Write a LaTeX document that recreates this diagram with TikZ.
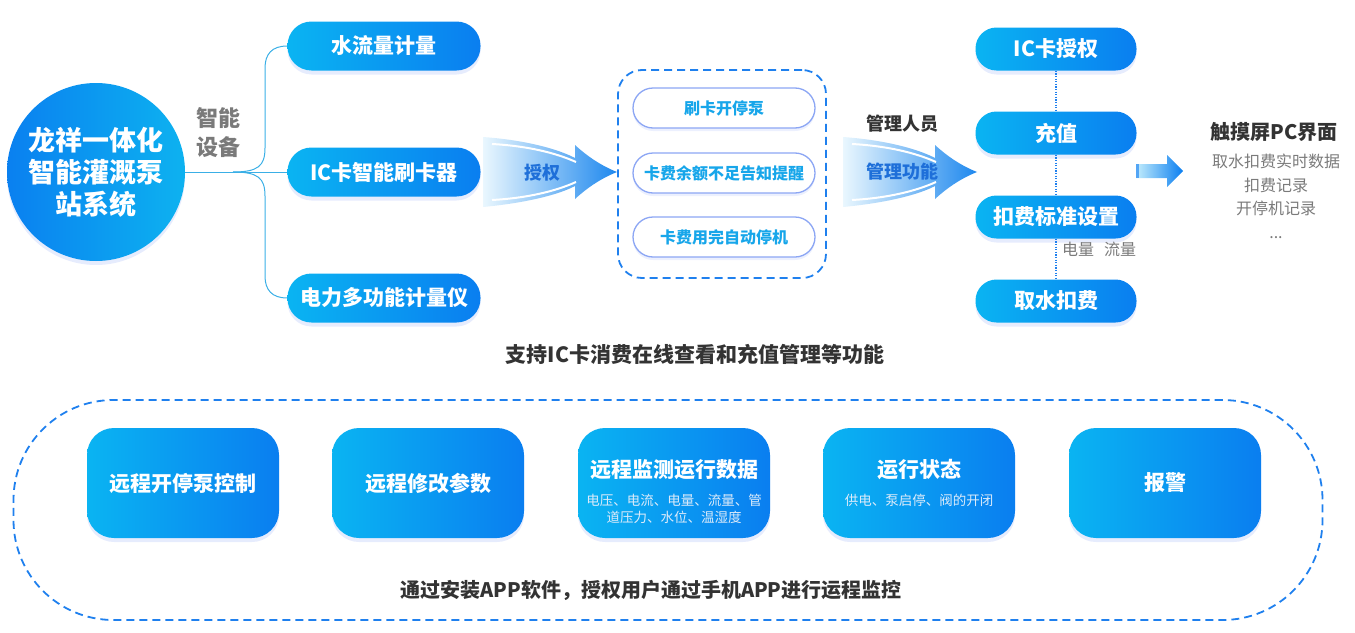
\documentclass[tikz,border=0pt]{standalone}
\usepackage{fontspec}
\setmainfont{Noto Sans CJK SC}
\usepackage{tikz}
\usetikzlibrary{positioning, shadows, calc}

\definecolor{cyanC}{HTML}{0AB4F2}
\definecolor{blueC}{HTML}{0A7EF0}
\definecolor{hubL}{HTML}{0A80F0}
\definecolor{hubR}{HTML}{0DB2F0}
\definecolor{lineC}{HTML}{3AAFE6}
\definecolor{dashC}{HTML}{1F80EE}
\definecolor{grayT}{HTML}{7A7A7A}
\definecolor{darkT}{HTML}{333333}
\definecolor{pillT}{HTML}{17A6EA}
\definecolor{pillE}{HTML}{8CA6F4}
\definecolor{glowC}{HTML}{C8D4FB}
\definecolor{swL}{HTML}{EAF7FE}
\definecolor{swR}{HTML}{1E88EE}
\definecolor{arrT}{HTML}{1E6FD9}
\definecolor{subT}{HTML}{DCEBFA}

\newcommand{\fsize}[2]{\fontsize{#1}{#2}\selectfont}

\tikzset{
  glow/.style={drop shadow={shadow xshift=0pt, shadow yshift=-4pt, opacity=.45, fill=glowC}},
  hub/.style={circle, minimum size=178pt, inner sep=0pt, left color=hubL, right color=hubR, text=white, align=center, font=\fsize{27}{32}\bfseries, glow},
  card/.style={rectangle, rounded corners=24pt, minimum width=193pt, minimum height=49pt, inner sep=0pt, left color=cyanC, right color=blueC, text=white, font=\fsize{21}{21}\bfseries, glow},
  rpill/.style={card, rounded corners=21pt, minimum width=161pt, minimum height=43pt},
  subpill/.style={rectangle, rounded corners=20pt, minimum width=182pt, minimum height=40pt, inner sep=0pt, fill=white, draw=pillE, line width=1.3pt, text=pillT, font=\fsize{16}{16}\bfseries, drop shadow={shadow xshift=0pt, shadow yshift=-3pt, opacity=.35, fill=glowC}},
  tile/.style={rectangle, rounded corners=27pt, minimum width=192pt, minimum height=110pt, inner sep=0pt, left color=cyanC, right color=blueC, text=white, font=\fsize{21}{21}\bfseries, glow},
  tilesub/.style={align=center, text=subT, font=\fsize{13.5}{16.5}, inner sep=0pt},
  dashbox/.style={rectangle, draw=dashC, line width=1.8pt, dash pattern=on 8pt off 5pt, inner sep=0pt},
  branch/.style={draw=lineC, line width=1pt},
  dotline/.style={draw=dashC, line width=2pt, dash pattern=on 1.2pt off 1.4pt},
  graytext/.style={text=grayT, inner sep=0pt, font=\fsize{16}{16}},
  darktext/.style={text=darkT, inner sep=0pt, font=\fsize{21}{21}\bfseries}
}

% 渐变箭头（授权）
\newcommand{\swoosh}{
  \shade[left color=swL, right color=swR] (483,137) .. controls (525,140) and (558,149) .. (575,158) -- (575,145)
    .. controls (588,157) and (602,166) .. (617,172) .. controls (602,178) and (588,187) .. (575,199) -- (575,186)
    .. controls (558,195) and (525,203) .. (483,207) -- cycle;
  \draw[white, line width=2pt] (492,144) .. controls (528,146) and (556,153) .. (576,162);
  \draw[white, line width=2pt] (492,200) .. controls (528,198) and (556,191) .. (576,182);
}

\begin{document}
\begin{tikzpicture}[x=1pt, y=-1pt]
  \useasboundingbox (0,0) rectangle (1355,632);

  % 1. 左侧主节点与智能设备
  \node[hub] (hub) at (96,172) {龙祥一体化\\智能灌溉泵\\站系统};
  \node[text=grayT, align=center, inner sep=0pt, font=\fsize{22}{29}\bfseries] (smart) at (218,133) {智能\\设备};

  \node[card] (water) at (384,46) {水流量计量};
  \node[card] (reader) at (384,172) {IC卡智能刷卡器};
  \node[card] (power) at (384,298) {电力多功能计量仪};

  \coordinate (fork) at (233,172);
  \draw[branch] (hub.east) -- (reader.west);
  \draw[branch] (fork) .. controls (258,172) and (265,166) .. (265,148) -- (265,68)
    .. controls (265,54) and (272,46) .. (water.west);
  \draw[branch] (fork) .. controls (258,172) and (265,178) .. (265,196) -- (265,276)
    .. controls (265,290) and (272,298) .. (power.west);

  % 2. 授权箭头与刷卡功能
  \swoosh
  \node[text=arrT, inner sep=0pt, font=\fsize{18}{18}\bfseries] (auth) at (542,173) {授权};

  \node[dashbox, rounded corners=24pt, minimum width=208pt, minimum height=208pt] (cardbox) at (722,174) {};
  \node[subpill] (p1) at (724,108) {刷卡开停泵};
  \node[subpill] (p2) at (724,173) {卡费余额不足告知提醒};
  \node[subpill] (p3) at (724,237) {卡费用完自动停机};

  % 3. 管理功能
  \begin{scope}[xshift=360pt]
    \swoosh
  \end{scope}
  \node[text=darkT, inner sep=0pt, font=\fsize{18}{18}\bfseries] (staff) at (902,124) {管理人员};
  \node[text=arrT, inner sep=0pt, font=\fsize{18}{18}\bfseries] (manage) at (902,172) {管理功能};

  \node[rpill] (r1) at (1056,49) {IC卡授权};
  \node[rpill] (r2) at (1056,133) {充值};
  \node[rpill] (r3) at (1056,217) {扣费标准设置};
  \node[rpill] (r4) at (1056,301) {取水扣费};
  \draw[dotline] (r1.south) -- (r2.north);
  \draw[dotline] (r2.south) -- (r3.north);
  \draw[dotline] (r3.south) -- (r4.north);
  \node[graytext] (units) at (1099,249) {电量\hspace{10pt}流量};

  % 4. 触摸屏PC界面
  \shade[left color=cyanC!25, right color=blueC] (1136,164) -- (1167,164) -- (1167,155) -- (1183,171)
    -- (1167,187) -- (1167,178) -- (1136,178) -- cycle;
  \fill[blueC!70] (1136,164) rectangle (1139,178);
  \node[text=darkT, inner sep=0pt, font=\fsize{20}{20}\bfseries] (pc) at (1274,132) {触摸屏PC界面};
  \node[graytext, align=center, font=\fsize{16}{23.5}, anchor=north] (pclist) at (1276,154) {取水扣费实时数据\\扣费记录\\开停机记录\\...};

  \node[darktext] (note1) at (695,354) {支持IC卡消费在线查看和充值管理等功能};

  % 5. 手机APP远程监控
  \node[dashbox, rounded corners=100pt, minimum width=1309pt, minimum height=220pt] (appbox) at (668,510) {};

  \node[tile] (t1) at (183,483) {远程开停泵控制};
  \node[tile] (t2) at (428,483) {远程修改参数};
  \node[tile] (t3) at (674,483) {};
  \node[text=white, inner sep=0pt, font=\fsize{21}{21}\bfseries] (t3a) at (674,470) {远程监测运行数据};
  \node[tilesub] (t3b) at (674,509) {电压、电流、电量、流量、管\\道压力、水位、温湿度};
  \node[tile] (t4) at (919,483) {};
  \node[text=white, inner sep=0pt, font=\fsize{21}{21}\bfseries] (t4a) at (919,470) {运行状态};
  \node[tilesub] (t4b) at (919,500) {供电、泵启停、阀的开闭};
  \node[tile] (t5) at (1165,483) {报警};

  \node[darktext, font=\fsize{20}{20}\bfseries] (note2) at (651,590) {通过安装APP软件，授权用户通过手机APP进行运程监控};
\end{tikzpicture}
\end{document}
